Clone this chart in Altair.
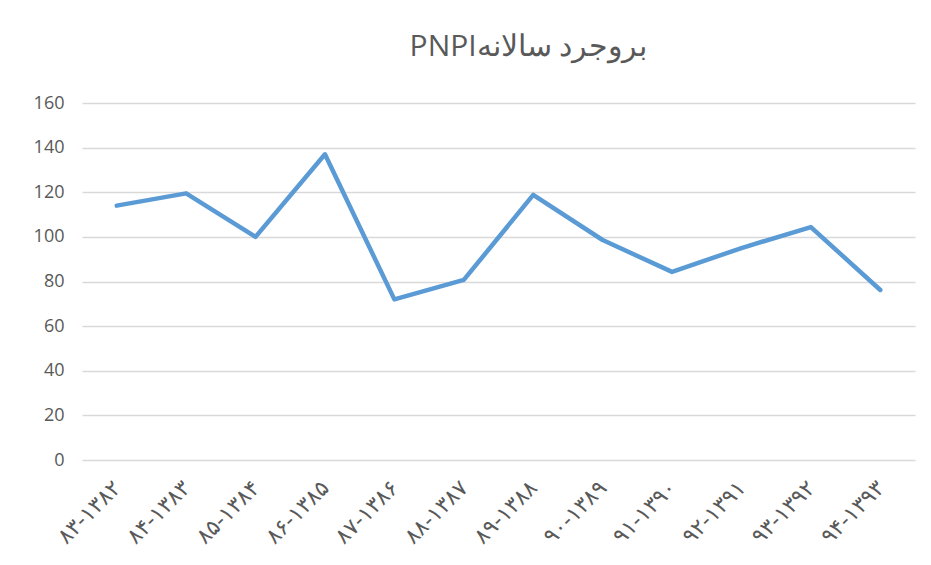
import altair as alt
import pandas as pd

periods = ["۸۳-۱۳۸۲", "۸۴-۱۳۸۳", "۸۵-۱۳۸۴", "۸۶-۱۳۸۵", "۸۷-۱۳۸۶", "۸۸-۱۳۸۷",
           "۸۹-۱۳۸۸", "۹۰-۱۳۸۹", "۹۱-۱۳۹۰", "۹۲-۱۳۹۱", "۹۳-۱۳۹۲", "۹۴-۱۳۹۳"]
values = [114, 119.5, 100, 137, 72, 80.7, 118.8, 98.6, 84.3, 95, 104.4, 76.2]

df = pd.DataFrame({"period": periods, "value": values})

chart = alt.Chart(df).mark_line(color="#5b9bd5", strokeWidth=4.5, strokeCap="round", strokeJoin="round").encode(
    x=alt.X("period:N", sort=periods, scale=alt.Scale(type="point", padding=0.5),
            axis=alt.Axis(title=None, labelAngle=-45, labelAlign="right", labelBaseline="middle",
                          labelFontSize=22, labelColor="#595959", labelFont="DejaVu Sans",
                          domain=False, ticks=False, grid=False, labelPadding=24)),
    y=alt.Y("value:Q", scale=alt.Scale(domain=[0, 160]),
            axis=alt.Axis(title=None, values=[0, 20, 40, 60, 80, 100, 120, 140, 160],
                          labelFontSize=18, labelColor="#595959", labelFont="Open Sans",
                          domain=False, ticks=False, gridColor="#d9d9d9", gridWidth=1.5,
                          labelPadding=18)),
).properties(
    width=833, height=357,
    title=alt.TitleParams("PNPIبروجرد سالانه", fontSize=30, font="Open Sans", fontWeight="normal",
                          color="#595959", offset=32, anchor="middle", dx=30),
    autosize=alt.AutoSizeParams(type="none"),
    padding={"left": 74, "top": 95, "right": 8, "bottom": 90},
).configure_view(stroke=None)

chart.save("out.html", embed_options={"renderer": "svg", "actions": False})
